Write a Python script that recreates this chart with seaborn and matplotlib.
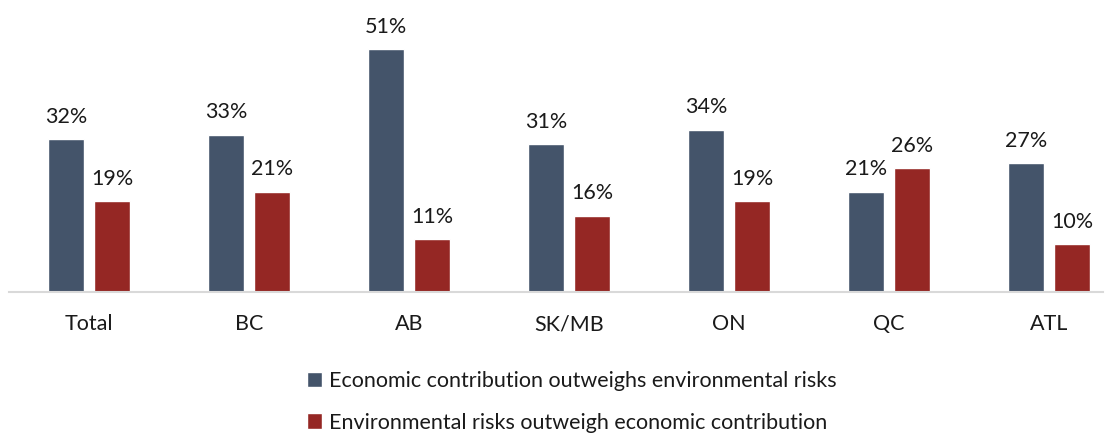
import matplotlib
matplotlib.use("Agg")
import matplotlib.pyplot as plt
import seaborn as sns
import pandas as pd
from matplotlib.patches import Patch

regions = ["Total", "BC", "AB", "SK/MB", "ON", "QC", "ATL"]
economic = [32, 33, 51, 31, 34, 21, 27]
environmental = [19, 21, 11, 16, 19, 26, 10]
series_names = ["Economic contribution outweighs environmental risks",
                "Environmental risks outweigh economic contribution"]
colors = ["#44546A", "#952724"]

df = pd.DataFrame({
    "region": regions * 2,
    "value": economic + environmental,
    "series": [series_names[0]] * len(regions) + [series_names[1]] * len(regions),
})

sns.set_theme(style="white")
plt.rcParams["font.family"] = ["Lato", "DejaVu Sans"]

fig = plt.figure(figsize=(11.13, 4.33), dpi=100)
# axes a bit wider than the figure so the groups are spaced like the original
ax = fig.add_axes([9 / 1113, 0.326, 1120 / 1113, 0.674])

sns.barplot(data=df, x="region", y="value", hue="series", palette=colors,
            saturation=1, width=0.575, gap=0.217, legend=False, ax=ax)

for container in ax.containers:
    ax.bar_label(container, labels=[f"{v:.0f}%" for v in container.datavalues],
                 padding=9, fontsize=15.5, color="#1a1a1a")

ax.set_ylim(0, 61.3)
ax.set_xlim(-0.5, len(regions) - 0.5)
ax.set_xlabel("")
ax.set_ylabel("")
ax.set_yticks([])
for s in ["top", "left", "right"]:
    ax.spines[s].set_visible(False)
ax.spines["bottom"].set_color("#D9D9D9")
ax.spines["bottom"].set_linewidth(1.5)
ax.spines["bottom"].set_bounds(-0.5, 6.34)
ax.tick_params(axis="x", length=0, pad=16, labelsize=15.5, labelcolor="#1a1a1a")

handles = [Patch(facecolor=c, label=n) for c, n in zip(colors, series_names)]
fig.legend(handles=handles, loc="upper left", bbox_to_anchor=(0.268, 0.163),
           frameon=False, fontsize=15.5, labelspacing=1.0, handlelength=0.7,
           handleheight=0.7, handletextpad=0.35, borderaxespad=0,
           labelcolor="#1a1a1a")

fig.savefig("out.png", dpi=100)
